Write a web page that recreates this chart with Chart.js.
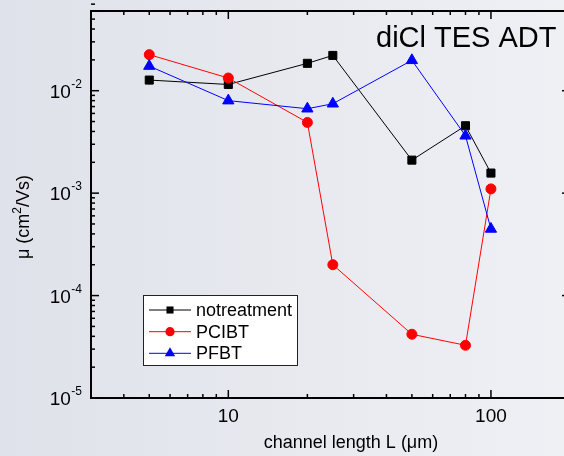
<!DOCTYPE html>
<html>
<head>
<meta charset="utf-8">
<script src="https://cdn.jsdelivr.net/npm/chart.js@4.4.0/dist/chart.umd.min.js"></script>
<style>
  html, body { margin: 0; padding: 0; overflow: hidden; }
  body { width: 564px; height: 456px; background: linear-gradient(to right, #dfe2ea, #eff0f4); }
  canvas { display: block; }
</style>
</head>
<body>
<canvas id="chart" width="580" height="456"></canvas>
<script>
// channel lengths in µm
const lengths = [5, 10, 20, 25, 50, 80, 100];
// mobility values, cm2/Vs
const noTreatment = [0.0127, 0.0115, 0.0185, 0.0221, 0.0021, 0.00455, 0.00157];
const pcibt = [0.0225, 0.0133, 0.0049, 0.0002, 0.0000419, 0.0000327, 0.0011];
const pfbt = [0.0174, 0.008, 0.00667, 0.00746, 0.0198, 0.00363, 0.000447];
const seriesNames = ['notreatment', 'PCIBT', 'PFBT'];
const xMajorTicks = [10, 100];
const xMinorTicks = [3, 4, 5, 6, 7, 8, 9, 20, 30, 40, 50, 60, 70, 80, 90, 200];
const yMajorExponents = [-2, -3, -4, -5];
const yMinorTicks = [];
[-5, -4, -3, -2].forEach(e => {
  for (let m = 2; m <= 9; m++) yMinorTicks.push(m * Math.pow(10, e));
});

const FONT = 'Arial, "Liberation Sans", sans-serif';
const colors = ['#000000', '#ff0000', '#0000ff'];
const styles = ['rect', 'circle', 'triangle'];
const radii = [5.7, 5, 6.5];

function toPoints(vals) {
  return lengths.map((l, i) => ({ x: l, y: vals[i] }));
}

function drawMarker(ctx, style, x, y, r) {
  ctx.beginPath();
  if (style === 'rect') {
    const s = r * Math.SQRT1_2;
    ctx.rect(x - s, y - s, 2 * s, 2 * s);
  } else if (style === 'circle') {
    ctx.arc(x, y, r, 0, Math.PI * 2);
  } else {
    ctx.moveTo(x, y - r);
    ctx.lineTo(x + r * Math.sqrt(3) / 2, y + r / 2);
    ctx.lineTo(x - r * Math.sqrt(3) / 2, y + r / 2);
    ctx.closePath();
  }
  ctx.fill();
}

const framePlugin = {
  id: 'frame',
  beforeDatasetsDraw(chart) {
    const { ctx, chartArea: a, scales: { x, y } } = chart;
    ctx.save();
    ctx.strokeStyle = '#000';
    ctx.lineWidth = 1.5;
    const tick = (x1, y1, x2, y2) => {
      ctx.beginPath(); ctx.moveTo(x1, y1); ctx.lineTo(x2, y2); ctx.stroke();
    };
    xMinorTicks.forEach(v => {
      const px = x.getPixelForValue(v);
      tick(px, a.bottom, px, a.bottom - 4);
      tick(px, a.top, px, a.top + 4);
    });
    xMajorTicks.forEach(v => {
      const px = x.getPixelForValue(v);
      tick(px, a.bottom, px, a.bottom - 8);
      tick(px, a.top, px, a.top + 8);
    });
    yMinorTicks.forEach(v => {
      const py = y.getPixelForValue(v);
      tick(a.left, py, a.left + 4, py);
      tick(a.right, py, a.right - 4, py);
    });
    yMajorExponents.forEach(e => {
      const py = y.getPixelForValue(Math.pow(10, e));
      tick(a.left, py, a.left + 8, py);
      tick(a.right, py, a.right - 8, py);
    });
    ctx.lineWidth = 2;
    ctx.strokeRect(a.left, a.top, a.right - a.left, a.bottom - a.top);
    ctx.restore();
  },
  afterDraw(chart) {
    const { ctx, chartArea: a, scales: { x, y } } = chart;
    ctx.save();
    ctx.fillStyle = '#000';
    ctx.textBaseline = 'alphabetic';

    // y tick labels 10^n
    yMajorExponents.forEach(e => {
      const py = y.getPixelForValue(Math.pow(10, e));
      ctx.font = '12px ' + FONT;
      const sup = String(e);
      const supW = ctx.measureText(sup).width;
      const supX = a.left - 9 - supW;
      ctx.textAlign = 'left';
      ctx.fillText(sup, supX, py - 3);
      ctx.font = '19px ' + FONT;
      ctx.textAlign = 'right';
      ctx.fillText('10', supX - 0.5, py + 7);
    });

    // x tick labels
    ctx.font = '19px ' + FONT;
    ctx.textAlign = 'center';
    xMajorTicks.forEach(v => {
      ctx.fillText(String(v), x.getPixelForValue(v), a.bottom + 24);
    });

    // x axis title
    ctx.font = '18px ' + FONT;
    ctx.fillText('channel length L (\u03bcm)', 351, 448);

    // y axis title with superscript
    ctx.save();
    ctx.translate(28.5, 217);
    ctx.rotate(-Math.PI / 2);
    const p1 = '\u03bc (cm', p2 = '2', p3 = '/Vs)';
    ctx.font = '18px ' + FONT;
    const w1 = ctx.measureText(p1).width, w3 = ctx.measureText(p3).width;
    ctx.font = '12px ' + FONT;
    const w2 = ctx.measureText(p2).width;
    let tx = -(w1 + w2 + w3) / 2;
    ctx.textAlign = 'left';
    ctx.font = '18px ' + FONT;
    ctx.fillText(p1, tx, 0); tx += w1;
    ctx.font = '12px ' + FONT;
    ctx.fillText(p2, tx, -8); tx += w2;
    ctx.font = '18px ' + FONT;
    ctx.fillText(p3, tx, 0);
    ctx.restore();

    // title
    ctx.font = '29px ' + FONT;
    ctx.textAlign = 'left';
    ctx.fillText('diCl TES ADT', 376, 47);

    // legend
    ctx.fillStyle = '#ffffff';
    ctx.fillRect(143.5, 295.5, 154, 70);
    ctx.strokeStyle = '#222';
    ctx.lineWidth = 1;
    ctx.strokeRect(143.5, 295.5, 154, 70);
    const rowsY = [310, 331.7, 353.3];
    const legendRadii = [5, 4.6, 6];
    seriesNames.forEach((name, i) => {
      const ly = rowsY[i];
      ctx.strokeStyle = colors[i];
      ctx.lineWidth = 1;
      ctx.beginPath(); ctx.moveTo(149, ly); ctx.lineTo(191, ly); ctx.stroke();
      ctx.fillStyle = colors[i];
      drawMarker(ctx, styles[i], 170, ly, legendRadii[i]);
      ctx.fillStyle = '#000';
      ctx.font = '18px ' + FONT;
      ctx.textBaseline = 'middle';
      ctx.fillText(name, 196, ly + 1);
    });
    ctx.restore();
  }
};

const seriesValues = [noTreatment, pcibt, pfbt];
new Chart(document.getElementById('chart').getContext('2d'), {
  type: 'line',
  data: {
    datasets: seriesValues.map((vals, i) => ({
      label: seriesNames[i],
      data: toPoints(vals),
      borderColor: colors[i],
      backgroundColor: colors[i],
      borderWidth: 1,
      pointStyle: styles[i],
      pointRadius: radii[i],
      pointBorderWidth: 1,
      pointBorderColor: colors[i],
      pointBackgroundColor: colors[i],
      tension: 0,
      order: 2 - i
    }))
  },
  options: {
    responsive: false,
    animation: false,
    layout: { padding: { left: 91, top: 11, right: 10, bottom: 58 } },
    plugins: { legend: { display: false }, tooltip: { enabled: false } },
    scales: {
      x: { type: 'logarithmic', min: 3, max: 200, display: false },
      y: { type: 'logarithmic', min: 1e-5, max: 0.06, display: false }
    }
  },
  plugins: [framePlugin]
});
</script>
</body>
</html>
